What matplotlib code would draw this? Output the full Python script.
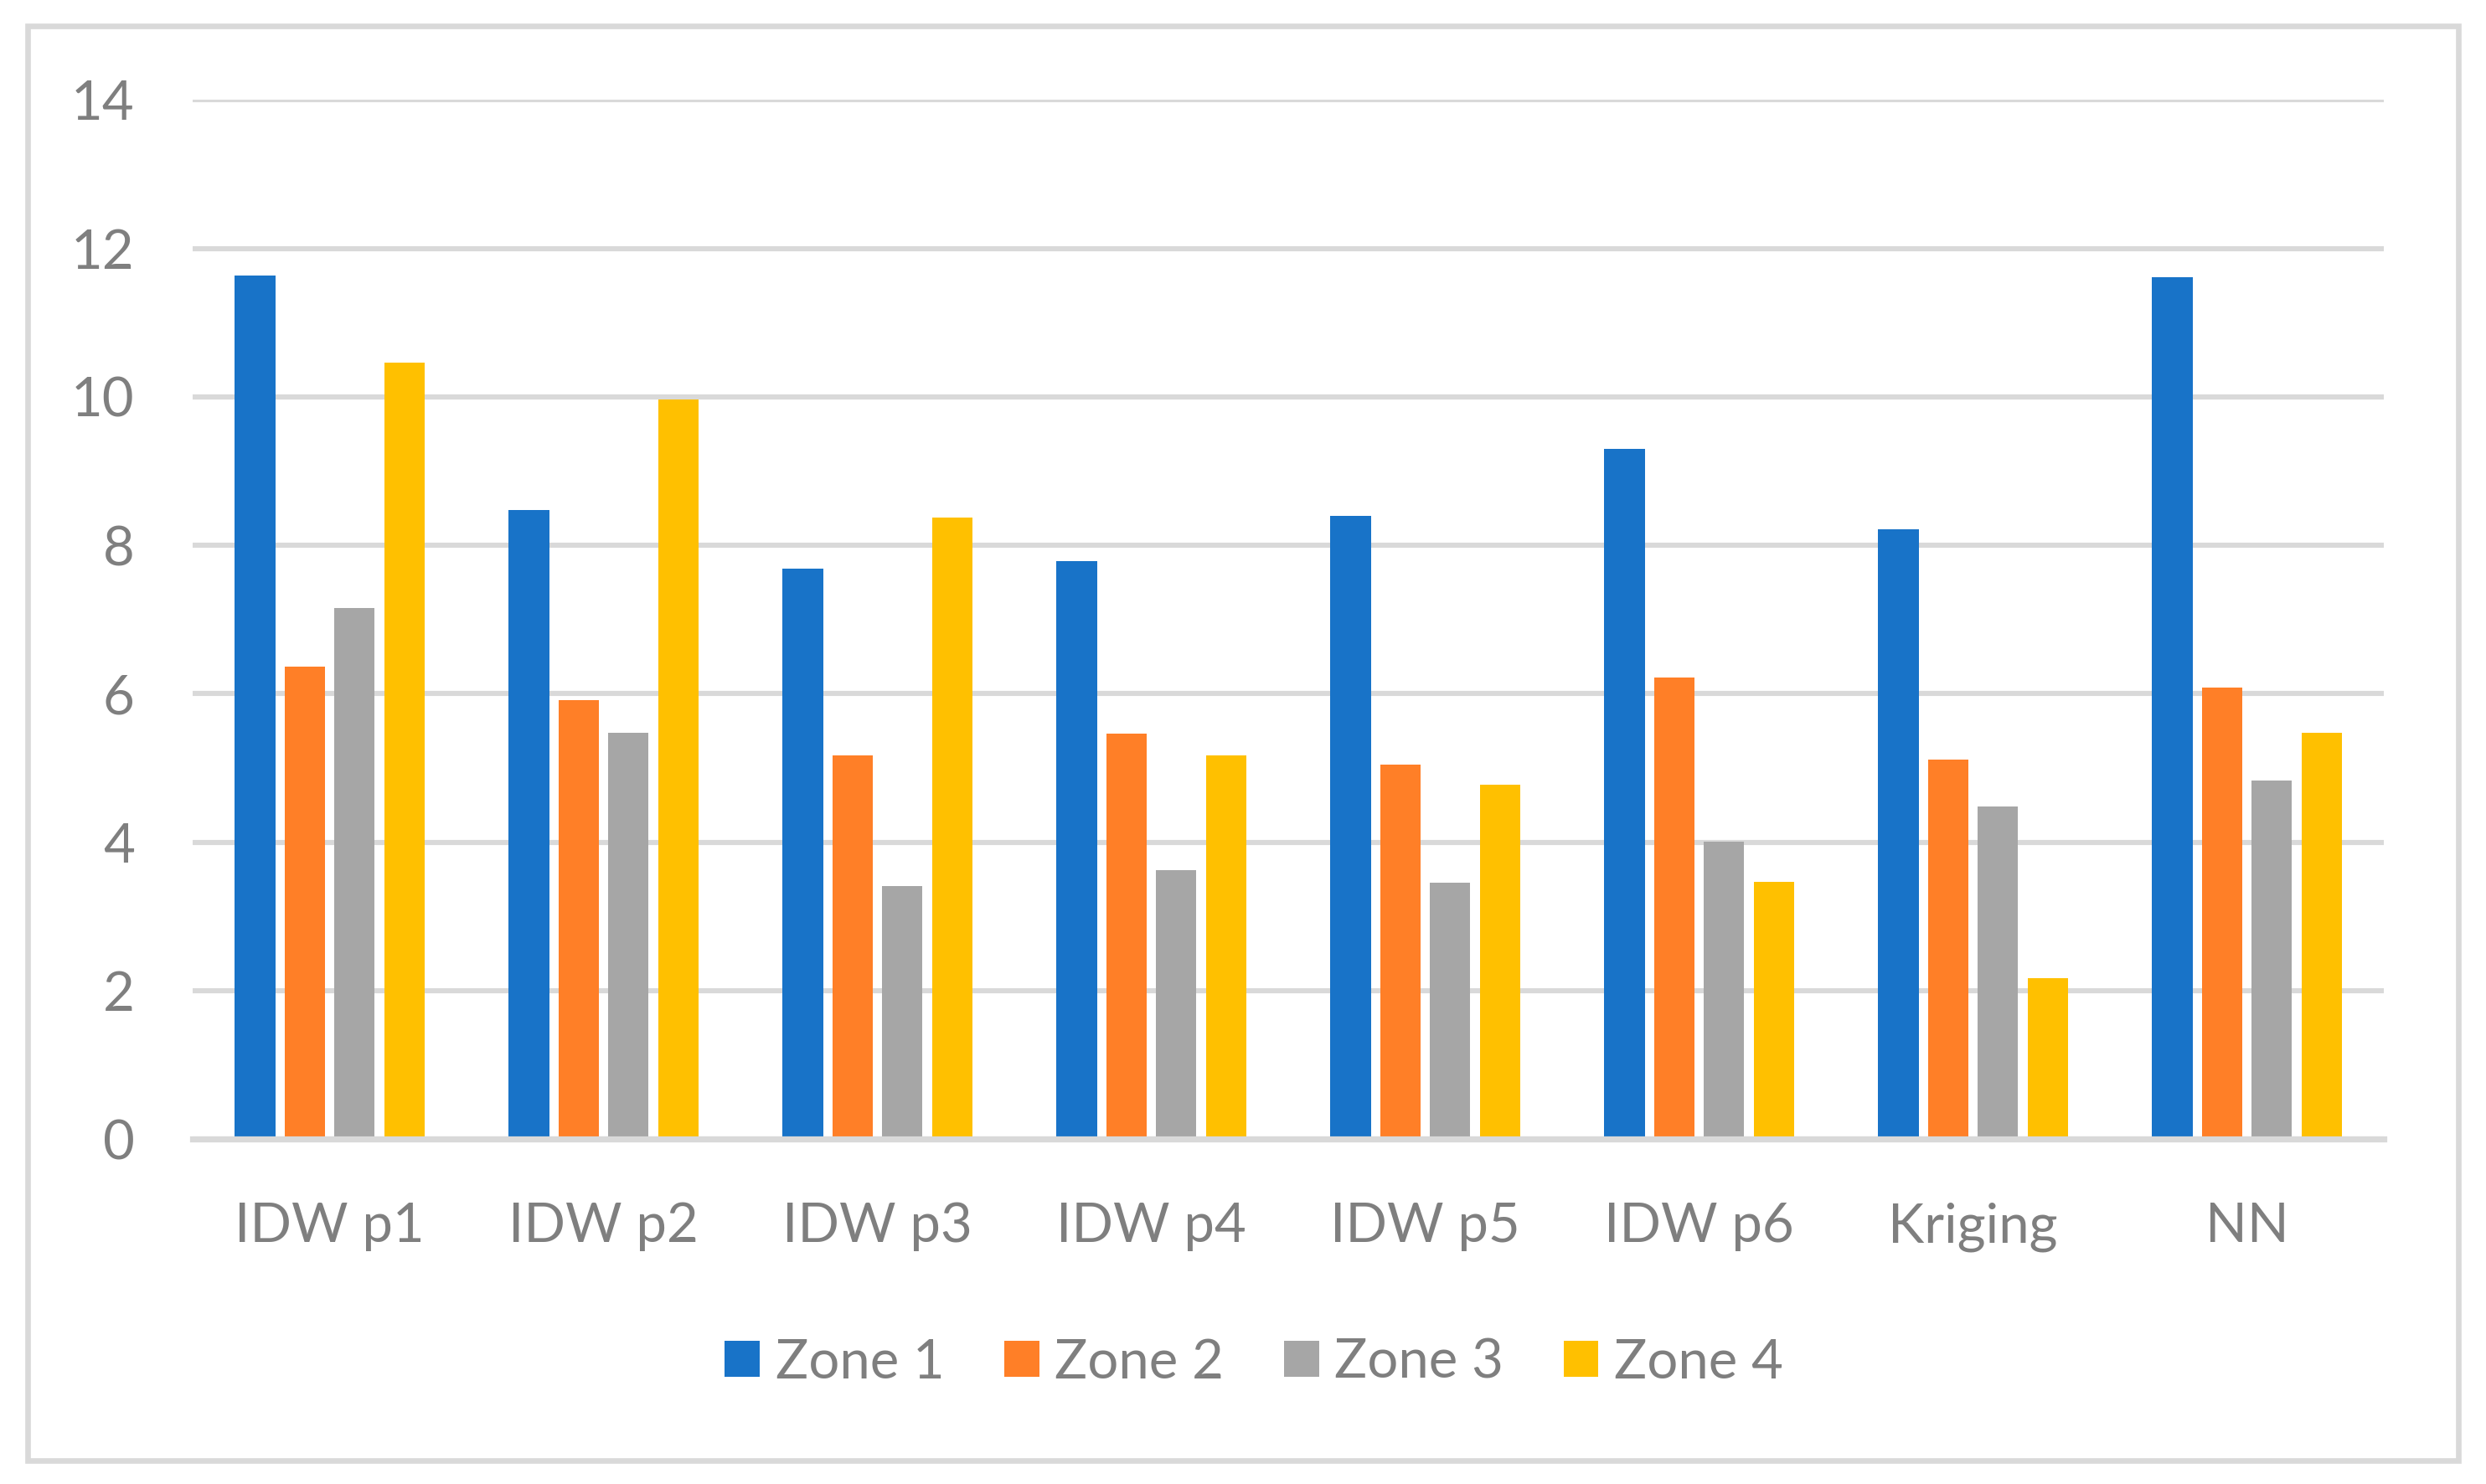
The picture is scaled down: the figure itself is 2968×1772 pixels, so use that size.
import matplotlib.pyplot as plt
from matplotlib.patches import Rectangle
import numpy as np

plt.rcParams['font.family'] = ['Lato', 'DejaVu Sans']

metodos = ['IDW p1', 'IDW p2', 'IDW p3', 'IDW p4', 'IDW p5', 'IDW p6', 'Kriging', 'NN']
zonas = ['Zone 1', 'Zone 2', 'Zone 3', 'Zone 4']

zona1 = [11.63, 8.48, 7.68, 7.79, 8.40, 9.30, 8.22, 11.61]
zona2 = [6.37, 5.91, 5.17, 5.46, 5.05, 6.22, 5.11, 6.08]
zona3 = [7.16, 5.47, 3.41, 3.62, 3.45, 4.01, 4.48, 4.83]
zona4 = [10.46, 9.96, 8.37, 5.17, 4.77, 3.46, 2.17, 5.47]

colores = ['#1873C8', '#FF7F27', '#A6A6A6', '#FFC000']
gris_texto = '#7F7F7F'
gris_linea = '#D9D9D9'

fig = plt.figure(figsize=(14.84, 8.86), dpi=200)
ax = fig.add_axes([0.0775, 0.2325, 0.9589 - 0.0775, 0.9326 - 0.2325])

x = np.arange(len(metodos))
paso = 0.1815
ancho = 0.147
for i, (serie, nombre) in enumerate(zip([zona1, zona2, zona3, zona4], zonas)):
    ax.bar(x + (i - 1.5) * paso, serie, width=ancho, color=colores[i], label=nombre, zorder=3)

ax.set_xlim(-0.5, len(metodos) - 0.5)
ax.set_ylim(0, 14)
ax.set_yticks(np.arange(0, 15, 2))
ax.set_xticks(x)
ax.set_xticklabels(metodos)

ax.set_axisbelow(True)
ax.yaxis.grid(True, color=gris_linea, linewidth=2.2)
for lado in ['top', 'right', 'left']:
    ax.spines[lado].set_visible(False)
ax.spines['bottom'].set_color(gris_linea)
ax.spines['bottom'].set_linewidth(2.6)
ax.spines['bottom'].set_zorder(4)

ax.tick_params(axis='both', length=0, labelsize=23.5, labelcolor=gris_texto)
ax.tick_params(axis='y', pad=25)
ax.tick_params(axis='x', pad=27)

fig.legend(loc='center', bbox_to_anchor=(0.5044, 0.0818), ncol=4, frameon=False,
           fontsize=23.5, labelcolor=gris_texto, handlelength=0.64, handleheight=0.64,
           handletextpad=0.28, columnspacing=1.1)

# marco exterior
fig.patches.append(Rectangle((0.0111, 0.0158), 0.9889 - 0.0111, 0.9825 - 0.0158,
                             transform=fig.transFigure, fill=False,
                             edgecolor=gris_linea, linewidth=2.4))

fig.savefig('out.png', dpi=200, facecolor='white')
